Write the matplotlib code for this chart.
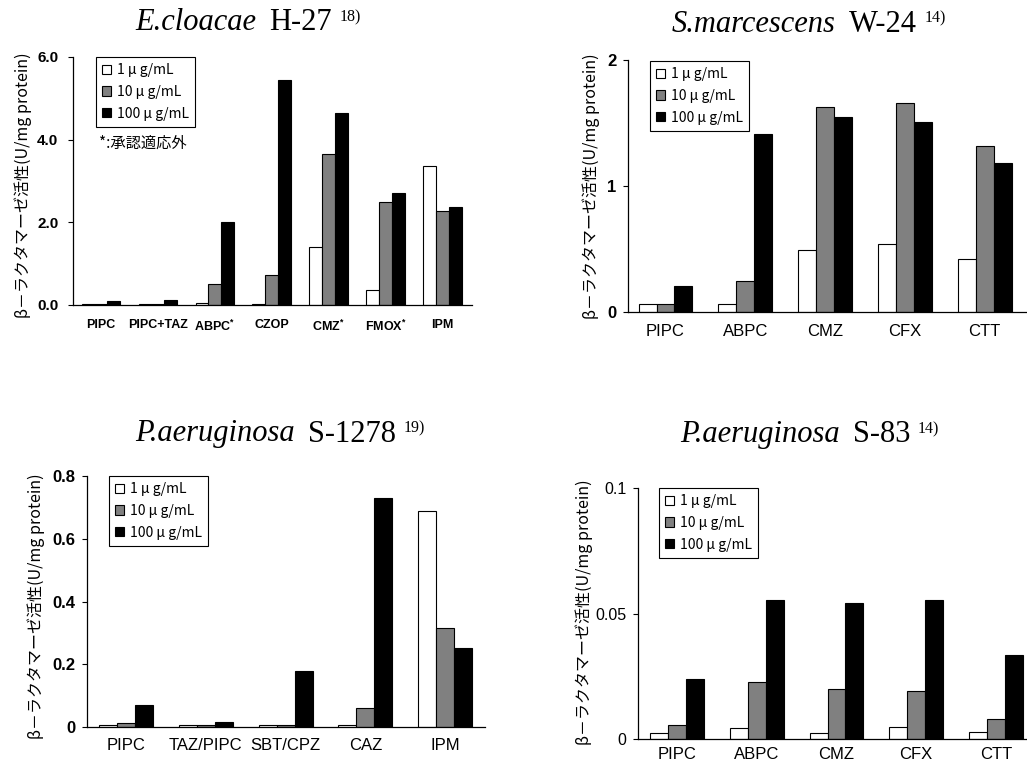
import matplotlib
matplotlib.use('Agg')
import matplotlib.pyplot as plt
from matplotlib.patches import Patch
import numpy as np

plt.rcParams['font.family'] = ['Liberation Sans', 'Noto Sans CJK JP', 'DejaVu Sans']
plt.rcParams['mathtext.fontset'] = 'custom'
plt.rcParams['mathtext.rm'] = 'Liberation Sans'
plt.rcParams['mathtext.bf'] = 'Liberation Sans:bold'

# data
conc_labels = ['1 μ g/mL', '10 μ g/mL', '100 μ g/mL']
bar_colors = ['white', '#808080', 'black']

p1_drugs = ['PIPC', 'PIPC+TAZ', r'ABPC$^{\mathbf{*}}$', 'CZOP', r'CMZ$^{\mathbf{*}}$', r'FMOX$^{\mathbf{*}}$', 'IPM']
p1_1 = [0.03, 0.03, 0.06, 0.03, 1.41, 0.36, 3.36]
p1_10 = [0.03, 0.03, 0.52, 0.73, 3.66, 2.49, 2.28]
p1_100 = [0.09, 0.12, 2.02, 5.45, 4.64, 2.72, 2.38]

p2_drugs = ['PIPC', 'ABPC', 'CMZ', 'CFX', 'CTT']
p2_1 = [0.06, 0.06, 0.49, 0.54, 0.42]
p2_10 = [0.06, 0.25, 1.63, 1.66, 1.32]
p2_100 = [0.21, 1.41, 1.55, 1.51, 1.18]

p3_drugs = ['PIPC', 'TAZ/PIPC', 'SBT/CPZ', 'CAZ', 'IPM']
p3_1 = [0.007, 0.007, 0.007, 0.007, 0.687]
p3_10 = [0.013, 0.007, 0.007, 0.061, 0.316]
p3_100 = [0.071, 0.016, 0.18, 0.73, 0.252]

p4_drugs = ['PIPC', 'ABPC', 'CMZ', 'CFX', 'CTT']
p4_1 = [0.0023, 0.0042, 0.0023, 0.0046, 0.0028]
p4_10 = [0.0056, 0.0228, 0.020, 0.019, 0.0081]
p4_100 = [0.024, 0.0552, 0.0542, 0.0552, 0.0333]

ylabel = 'β－ラクタマーゼ活性(U/mg protein)'

W, H = 1027, 764
fig = plt.figure(figsize=(W / 100, H / 100), dpi=100)
renderer = fig.canvas.get_renderer()


def px_axes(left, top, right, bottom):
    return fig.add_axes([left / W, 1 - bottom / H, (right - left) / W, (bottom - top) / H])


def draw_panel(ax, drugs, series, ylim, yticks, yticklabels, xlim,
               xfont, xweight, yfont, yweight, ypad, xpad, leg_anchor):
    x = np.arange(len(drugs))
    w = 0.225
    for i, vals in enumerate(series):
        ax.bar(x + (i - 1) * w, vals, width=w, color=bar_colors[i],
               edgecolor='black', linewidth=0.8)
    ax.set_xlim(*xlim)
    ax.set_ylim(*ylim)
    ax.set_xticks(x)
    ax.set_xticklabels(drugs, fontsize=xfont, fontweight=xweight)
    ax.set_yticks(yticks)
    ax.set_yticklabels(yticklabels, fontsize=yfont, fontweight=yweight)
    ax.tick_params(axis='x', length=0, pad=xpad)
    ax.tick_params(axis='y', direction='out', length=3.5, width=0.8, pad=ypad)
    for s in ['top', 'right']:
        ax.spines[s].set_visible(False)
    for s in ['left', 'bottom']:
        ax.spines[s].set_linewidth(0.9)
    handles = [Patch(facecolor=c, edgecolor='black', linewidth=0.8) for c in bar_colors]
    leg = ax.legend(handles, conc_labels, loc='upper left', bbox_to_anchor=leg_anchor,
                    fancybox=False, framealpha=1, edgecolor='black',
                    prop={'family': ['Noto Sans CJK JP', 'DejaVu Sans'], 'size': 10},
                    handlelength=0.65, handleheight=0.65, handletextpad=0.4,
                    labelspacing=0.55, borderpad=0.45, borderaxespad=0)
    leg.get_frame().set_linewidth(0.8)


# top left
ax1 = px_axes(73, 57, 472, 305)
draw_panel(ax1, p1_drugs, [p1_1, p1_10, p1_100], (0, 6), [0, 2, 4, 6],
           ['0.0', '2.0', '4.0', '6.0'], (-0.49, 6.52), 9, 'bold', 11, 'bold', 7, 10,
           (0.058, 1.0))
ax1.text(0.065, 0.653, '*:承認適応外', transform=ax1.transAxes, va='center', ha='left',
         fontsize=11, family=['Noto Sans CJK JP', 'DejaVu Sans'])

# top right
ax2 = px_axes(628, 60, 1027, 312)
draw_panel(ax2, p2_drugs, [p2_1, p2_10, p2_100], (0, 2), [0, 1, 2],
           ['0', '1', '2'], (-0.47, 4.53), 12, 'normal', 12, 'bold', 5, 9,
           (0.055, 0.996))

# bottom left
ax3 = px_axes(87, 476, 485, 727)
draw_panel(ax3, p3_drugs, [p3_1, p3_10, p3_100], (0, 0.8), [0, 0.2, 0.4, 0.6, 0.8],
           ['0', '0.2', '0.4', '0.6', '0.8'], (-0.49, 4.50), 12, 'normal', 12, 'bold', 5, 8,
           (0.055, 1.0))

# bottom right
ax4 = px_axes(638, 488, 1027, 739)
draw_panel(ax4, p4_drugs, [p4_1, p4_10, p4_100], (0, 0.1), [0, 0.05, 0.1],
           ['0', '0.05', '0.1'], (-0.49, 4.39), 12, 'normal', 11.5, 'normal', 5, 6,
           (0.054, 1.0))

# titles: italic species, strain, superscript reference number
titles = [
    (135, 23, 'E.cloacae', 'H-27', '18)'),
    (672, 24, 'S.marcescens', 'W-24', '14)'),
    (135, 434, 'P.aeruginosa', 'S-1278', '19)'),
    (680, 435, 'P.aeruginosa', 'S-83', '14)'),
]
for tx, ty, species, strain, ref in titles:
    t1 = fig.text(tx / W, 1 - ty / H, species, ha='left', va='center', fontsize=22,
                  family='Liberation Serif', style='italic')
    x1 = t1.get_window_extent(renderer).x1
    t2 = fig.text((x1 + 13) / W, 1 - ty / H, strain, ha='left', va='center', fontsize=22,
                  family='Liberation Serif')
    x2 = t2.get_window_extent(renderer).x1
    fig.text((x2 + 8) / W, 1 - (ty - 6) / H, ref, ha='left', va='center', fontsize=11.5,
             family='Liberation Serif')

# y labels
for lx, ly in [(23, 185), (591, 186), (36, 606), (584, 612)]:
    fig.text(lx / W, 1 - ly / H, ylabel, rotation=90, ha='center', va='center',
             fontsize=11.5, family=['Noto Sans CJK JP', 'DejaVu Sans'])

fig.savefig('out.png', dpi=100)
